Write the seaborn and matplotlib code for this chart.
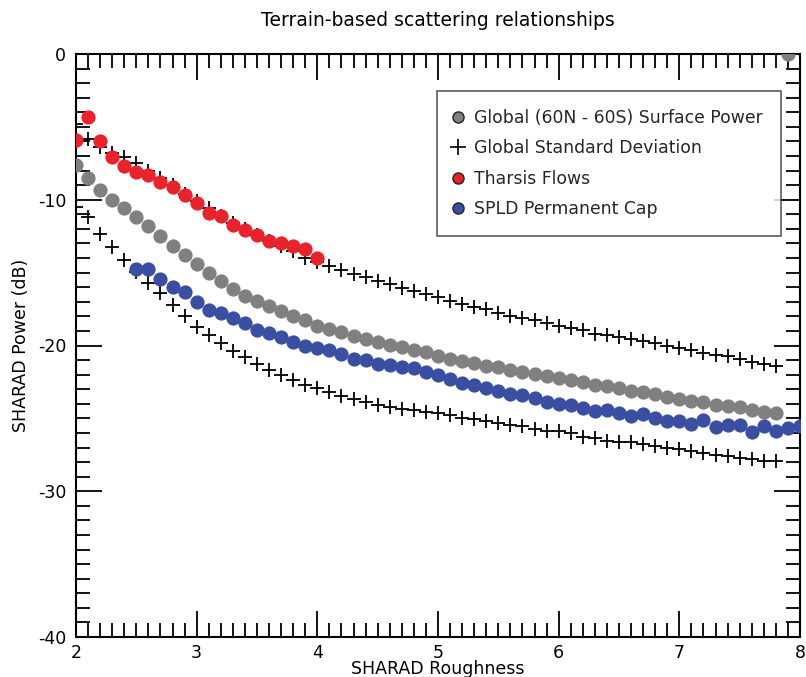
import numpy as np
import pandas as pd
import matplotlib
matplotlib.use("Agg")
import matplotlib.pyplot as plt
from matplotlib.lines import Line2D
from matplotlib.ticker import MultipleLocator
import seaborn as sns

# ---------------- data ----------------
rough_global = [2.0, 2.1, 2.2, 2.3, 2.4, 2.5, 2.6, 2.7, 2.8, 2.9,
                3.0, 3.1, 3.2, 3.3, 3.4, 3.5, 3.6, 3.7, 3.8, 3.9,
                4.0, 4.1, 4.2, 4.3, 4.4, 4.5, 4.6, 4.7, 4.8, 4.9,
                5.0, 5.1, 5.2, 5.3, 5.4, 5.5, 5.6, 5.7, 5.8, 5.9,
                6.0, 6.1, 6.2, 6.3, 6.4, 6.5, 6.6, 6.7, 6.8, 6.9,
                7.0, 7.1, 7.2, 7.3, 7.4, 7.5, 7.6, 7.7, 7.8, 7.9]
power_global = [-7.6, -8.5, -9.3, -10.0, -10.6, -11.2, -11.8, -12.5, -13.2, -13.8,
                -14.4, -15.0, -15.6, -16.1, -16.6, -16.95, -17.3, -17.65, -17.95, -18.25,
                -18.65, -18.9, -19.1, -19.35, -19.55, -19.75, -19.95, -20.1, -20.3, -20.45,
                -20.7, -20.9, -21.05, -21.2, -21.4, -21.5, -21.7, -21.8, -21.95, -22.1,
                -22.25, -22.35, -22.5, -22.7, -22.8, -22.95, -23.1, -23.2, -23.35, -23.5,
                -23.65, -23.8, -23.9, -24.05, -24.15, -24.25, -24.4, -24.55, -24.65, 0.0]

rough_std = [2.0, 2.1, 2.2, 2.3, 2.4, 2.5, 2.6, 2.7, 2.8, 2.9,
             3.0, 3.1, 3.2, 3.3, 3.4, 3.5, 3.6, 3.7, 3.8, 3.9,
             4.0, 4.1, 4.2, 4.3, 4.4, 4.5, 4.6, 4.7, 4.8, 4.9,
             5.0, 5.1, 5.2, 5.3, 5.4, 5.5, 5.6, 5.7, 5.8, 5.9,
             6.0, 6.1, 6.2, 6.3, 6.4, 6.5, 6.6, 6.7, 6.8, 6.9,
             7.0, 7.1, 7.2, 7.3, 7.4, 7.5, 7.6, 7.7, 7.8]
std_upper = [-4.8, -5.8, -6.4, -6.8, -7.1, -7.5, -8.0, -8.5, -9.0, -9.6,
             -10.1, -10.6, -11.1, -11.6, -12.0, -12.4, -12.8, -13.2, -13.5, -14.0,
             -14.3, -14.55, -14.8, -15.1, -15.3, -15.6, -15.8, -16.05, -16.25, -16.45,
             -16.7, -16.95, -17.15, -17.35, -17.5, -17.8, -17.95, -18.1, -18.25, -18.45,
             -18.65, -18.8, -18.95, -19.2, -19.3, -19.45, -19.55, -19.7, -19.85, -20.0,
             -20.2, -20.3, -20.5, -20.65, -20.75, -20.95, -21.1, -21.25, -21.4]
std_lower = [-10.5, -11.2, -12.35, -13.25, -14.1, -14.95, -15.7, -16.4, -17.2, -18.0,
             -18.7, -19.25, -19.8, -20.35, -20.8, -21.3, -21.65, -22.05, -22.35, -22.7,
             -22.95, -23.2, -23.45, -23.7, -23.9, -24.05, -24.2, -24.35, -24.45, -24.55,
             -24.65, -24.8, -24.95, -25.05, -25.2, -25.35, -25.45, -25.55, -25.7, -25.85,
             -25.9, -26.0, -26.25, -26.35, -26.55, -26.6, -26.65, -26.75, -26.9, -27.05,
             -27.1, -27.25, -27.4, -27.5, -27.6, -27.75, -27.8, -27.9, -27.9]

rough_tharsis = [2.0, 2.1, 2.2, 2.3, 2.4, 2.5, 2.6, 2.7, 2.8, 2.9,
                 3.0, 3.1, 3.2, 3.3, 3.4, 3.5, 3.6, 3.7, 3.8, 3.9, 4.0]
power_tharsis = [-5.9, -4.3, -6.0, -7.1, -7.7, -8.1, -8.3, -8.8, -9.1, -9.7,
                 -10.2, -10.9, -11.1, -11.7, -12.1, -12.4, -12.8, -13.0, -13.15, -13.4, -14.0]

rough_spld = [2.5, 2.6, 2.7, 2.8, 2.9,
              3.0, 3.1, 3.2, 3.3, 3.4, 3.5, 3.6, 3.7, 3.8, 3.9,
              4.0, 4.1, 4.2, 4.3, 4.4, 4.5, 4.6, 4.7, 4.8, 4.9,
              5.0, 5.1, 5.2, 5.3, 5.4, 5.5, 5.6, 5.7, 5.8, 5.9,
              6.0, 6.1, 6.2, 6.3, 6.4, 6.5, 6.6, 6.7, 6.8, 6.9,
              7.0, 7.1, 7.2, 7.3, 7.4, 7.5, 7.6, 7.7, 7.8, 7.9, 8.0]
power_spld = [-14.75, -14.75, -15.45, -16.0, -16.3,
              -17.0, -17.55, -17.75, -18.1, -18.45, -18.95, -19.15, -19.45, -19.75, -20.0,
              -20.2, -20.3, -20.6, -20.9, -21.0, -21.25, -21.35, -21.45, -21.55, -21.8,
              -22.0, -22.3, -22.55, -22.7, -22.95, -23.1, -23.3, -23.4, -23.6, -23.9,
              -24.0, -24.1, -24.3, -24.5, -24.4, -24.65, -24.85, -24.7, -25.0, -25.2,
              -25.15, -25.4, -25.1, -25.6, -25.45, -25.45, -25.95, -25.5, -25.85, -25.65, -25.5]

labels = ["Global (60N - 60S) Surface Power", "Global Standard Deviation",
          "Tharsis Flows", "SPLD Permanent Cap"]
title = "Terrain-based scattering relationships"
xlabel = "SHARAD Roughness"
ylabel = "SHARAD Power (dB)"

# ---------------- style ----------------
sns.set_theme(style="ticks")
plt.rcParams["font.family"] = ["DejaVu Sans"]
plt.rcParams["axes.unicode_minus"] = False

c_gray = "#808080"
c_red = "#e8232b"
c_blue = "#3a4fa2"

fig = plt.figure(figsize=(8.06, 6.77), dpi=100)
ax = fig.add_axes([76 / 806, 1 - 637 / 677, (800 - 76) / 806, (637 - 54) / 677])

df_g = pd.DataFrame({"x": rough_global, "y": power_global})
df_su = pd.DataFrame({"x": rough_std, "y": std_upper})
df_sl = pd.DataFrame({"x": rough_std, "y": std_lower})
df_t = pd.DataFrame({"x": rough_tharsis, "y": power_tharsis})
df_s = pd.DataFrame({"x": rough_spld, "y": power_spld})

dot = 105
sns.scatterplot(data=df_g, x="x", y="y", ax=ax, color=c_gray, s=dot,
                linewidth=0, legend=False, zorder=3)
for d in (df_su, df_sl):
    sns.scatterplot(data=d, x="x", y="y", ax=ax, color="black", marker="+",
                    s=110, linewidth=1.3, legend=False, zorder=4)
sns.scatterplot(data=df_t, x="x", y="y", ax=ax, color=c_red, s=dot,
                linewidth=0, legend=False, zorder=5)
sns.scatterplot(data=df_s, x="x", y="y", ax=ax, color=c_blue, s=dot,
                linewidth=0, legend=False, zorder=5)

ax.set_xlim(2, 8)
ax.set_ylim(-40, 0)
ax.xaxis.set_major_locator(MultipleLocator(1))
ax.xaxis.set_minor_locator(MultipleLocator(0.1))
ax.yaxis.set_major_locator(MultipleLocator(10))
ax.yaxis.set_minor_locator(MultipleLocator(1))
ax.tick_params(which="both", direction="in", top=True, right=True,
               color="black", width=1.3, labelsize=12.5, labelcolor="black")
ax.tick_params(which="major", length=19, pad=5)
ax.tick_params(which="minor", length=10)
ax.tick_params(axis="y", which="major", pad=7)
for sp in ax.spines.values():
    sp.set_color("black")
    sp.set_linewidth(1.5)

ax.set_xlabel(xlabel, fontsize=12.5, labelpad=-1.2, color="black")
ax.set_ylabel(ylabel, fontsize=12.5, labelpad=6, color="black")
ax.set_title(title, fontsize=13.5, pad=20, color="black")

handles = [
    Line2D([], [], linestyle="none", marker="o", markersize=8,
           markerfacecolor=c_gray, markeredgecolor="#222222", markeredgewidth=1),
    Line2D([], [], linestyle="none", marker="+", markersize=11,
           color="black", markeredgewidth=1.2),
    Line2D([], [], linestyle="none", marker="o", markersize=8,
           markerfacecolor=c_red, markeredgecolor="#222222", markeredgewidth=1),
    Line2D([], [], linestyle="none", marker="o", markersize=8,
           markerfacecolor=c_blue, markeredgecolor="#222222", markeredgewidth=1),
]
leg = ax.legend(handles, labels, loc="upper left",
                bbox_to_anchor=((437 - 76) / 724, 1 - (91 - 54) / 583),
                fontsize=12.4, frameon=True, fancybox=False, edgecolor="#333333",
                handlelength=0.3, handletextpad=0.8,
                borderpad=1.05, labelspacing=0.72, borderaxespad=0)
leg.get_frame().set_linewidth(1.2)

fig.savefig("out.png", dpi=100)
